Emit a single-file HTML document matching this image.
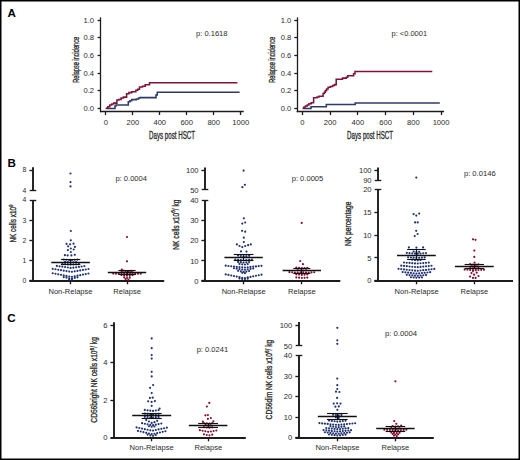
<!DOCTYPE html>
<html><head><meta charset="utf-8"><style>
html,body{margin:0;padding:0;background:#fff;}
body{width:520px;height:460px;overflow:hidden;}
svg{display:block;font-family:"Liberation Sans", sans-serif;}
</style></head><body>
<svg width="520" height="460" viewBox="0 0 520 460">
<rect x="0" y="0" width="520" height="460" fill="#fff"/>
<g>
<text x="7.6" y="17.1" font-size="11.6" text-anchor="start" fill="#000" font-weight="bold">A</text>
<text x="7.4" y="166.8" font-size="11.6" text-anchor="start" fill="#000" font-weight="bold">B</text>
<text x="7.2" y="322" font-size="11.6" text-anchor="start" fill="#000" font-weight="bold">C</text>
<line x1="100.5" y1="17.4" x2="100.5" y2="112.2" stroke="#1c1c1c" stroke-width="1.3"/>
<line x1="99.95" y1="111.5" x2="243.7" y2="111.5" stroke="#1c1c1c" stroke-width="1.3"/>
<line x1="97.6" y1="108.5" x2="100.6" y2="108.5" stroke="#1c1c1c" stroke-width="1.3"/>
<line x1="97.6" y1="90.5" x2="100.6" y2="90.5" stroke="#1c1c1c" stroke-width="1.3"/>
<line x1="97.6" y1="73.5" x2="100.6" y2="73.5" stroke="#1c1c1c" stroke-width="1.3"/>
<line x1="97.6" y1="55.5" x2="100.6" y2="55.5" stroke="#1c1c1c" stroke-width="1.3"/>
<line x1="97.6" y1="37.5" x2="100.6" y2="37.5" stroke="#1c1c1c" stroke-width="1.3"/>
<line x1="97.6" y1="20.5" x2="100.6" y2="20.5" stroke="#1c1c1c" stroke-width="1.3"/>
<text x="94.1" y="110.74" font-size="7.6" text-anchor="end" fill="#2a2a2a" font-weight="normal">0.0</text>
<text x="94.1" y="93.14" font-size="7.6" text-anchor="end" fill="#2a2a2a" font-weight="normal">0.2</text>
<text x="94.1" y="75.54" font-size="7.6" text-anchor="end" fill="#2a2a2a" font-weight="normal">0.4</text>
<text x="94.1" y="57.94" font-size="7.6" text-anchor="end" fill="#2a2a2a" font-weight="normal">0.6</text>
<text x="94.1" y="40.34" font-size="7.6" text-anchor="end" fill="#2a2a2a" font-weight="normal">0.8</text>
<text x="94.1" y="22.74" font-size="7.6" text-anchor="end" fill="#2a2a2a" font-weight="normal">1.0</text>
<line x1="105.5" y1="111.6" x2="105.5" y2="115" stroke="#1c1c1c" stroke-width="1.3"/>
<text x="105.8" y="125.4" font-size="7.6" text-anchor="middle" fill="#2a2a2a" font-weight="normal">0</text>
<line x1="132.5" y1="111.6" x2="132.5" y2="115" stroke="#1c1c1c" stroke-width="1.3"/>
<text x="132.78" y="125.4" font-size="7.6" text-anchor="middle" fill="#2a2a2a" font-weight="normal">200</text>
<line x1="159.5" y1="111.6" x2="159.5" y2="115" stroke="#1c1c1c" stroke-width="1.3"/>
<text x="159.76" y="125.4" font-size="7.6" text-anchor="middle" fill="#2a2a2a" font-weight="normal">400</text>
<line x1="186.5" y1="111.6" x2="186.5" y2="115" stroke="#1c1c1c" stroke-width="1.3"/>
<text x="186.74" y="125.4" font-size="7.6" text-anchor="middle" fill="#2a2a2a" font-weight="normal">600</text>
<line x1="213.5" y1="111.6" x2="213.5" y2="115" stroke="#1c1c1c" stroke-width="1.3"/>
<text x="213.72" y="125.4" font-size="7.6" text-anchor="middle" fill="#2a2a2a" font-weight="normal">800</text>
<line x1="240.5" y1="111.6" x2="240.5" y2="115" stroke="#1c1c1c" stroke-width="1.3"/>
<text x="240.7" y="125.4" font-size="7.6" text-anchor="middle" fill="#2a2a2a" font-weight="normal">1000</text>
<text transform="translate(78.6,59.8) rotate(-90)" x="0" y="0" font-size="9.7" text-anchor="middle" fill="#2a2a2a" font-weight="normal" stroke="#2a2a2a" stroke-width="0.32" textLength="46" lengthAdjust="spacingAndGlyphs">Relapse incidence</text>
<text x="149" y="138.5" font-size="10.0" text-anchor="start" fill="#2a2a2a" font-weight="normal" textLength="46" lengthAdjust="spacingAndGlyphs" stroke="#2a2a2a" stroke-width="0.32">Days post HSCT</text>
<text x="196" y="36.1" font-size="6.9" text-anchor="start" fill="#2a2a2a" font-weight="normal" textLength="31.5" lengthAdjust="spacingAndGlyphs">p: 0.1618</text>
<path d="M105.8,108.4 H115 V105.9 H116 V104.9 H128.3 V101.7 H129.9 V100.8 H131.7 V99.6 H136.3 V98.9 H138.6 V98 H140 V97.6 H156 V95 H157.3 V92.2 H239.6" fill="none" stroke="#2f3a68" stroke-width="1.55" stroke-linejoin="miter"/>
<path d="M105.8,108.3 H107.8 V106.8 H109.8 V105 H111.8 V103.9 H113.7 V103.1 H116.9 V100 H118.8 V99.4 H121.1 V98 H123.4 V97.1 H126.6 V93.8 H128.9 V92.6 H131.7 V91.8 H135.9 V90.2 H137.7 V89.2 H139.5 V86.9 H142.5 V86.3 H145.2 V84.8 H149.5 V82.8 H237.4" fill="none" stroke="#7e1337" stroke-width="1.55" stroke-linejoin="miter"/>
<line x1="297.5" y1="17.4" x2="297.5" y2="112.2" stroke="#1c1c1c" stroke-width="1.3"/>
<line x1="296.65" y1="111.5" x2="444.1" y2="111.5" stroke="#1c1c1c" stroke-width="1.3"/>
<line x1="294.3" y1="108.5" x2="297.3" y2="108.5" stroke="#1c1c1c" stroke-width="1.3"/>
<line x1="294.3" y1="90.5" x2="297.3" y2="90.5" stroke="#1c1c1c" stroke-width="1.3"/>
<line x1="294.3" y1="73.5" x2="297.3" y2="73.5" stroke="#1c1c1c" stroke-width="1.3"/>
<line x1="294.3" y1="55.5" x2="297.3" y2="55.5" stroke="#1c1c1c" stroke-width="1.3"/>
<line x1="294.3" y1="37.5" x2="297.3" y2="37.5" stroke="#1c1c1c" stroke-width="1.3"/>
<line x1="294.3" y1="20.5" x2="297.3" y2="20.5" stroke="#1c1c1c" stroke-width="1.3"/>
<text x="291.3" y="110.74" font-size="7.6" text-anchor="end" fill="#2a2a2a" font-weight="normal">0.0</text>
<text x="291.3" y="93.14" font-size="7.6" text-anchor="end" fill="#2a2a2a" font-weight="normal">0.2</text>
<text x="291.3" y="75.54" font-size="7.6" text-anchor="end" fill="#2a2a2a" font-weight="normal">0.4</text>
<text x="291.3" y="57.94" font-size="7.6" text-anchor="end" fill="#2a2a2a" font-weight="normal">0.6</text>
<text x="291.3" y="40.34" font-size="7.6" text-anchor="end" fill="#2a2a2a" font-weight="normal">0.8</text>
<text x="291.3" y="22.74" font-size="7.6" text-anchor="end" fill="#2a2a2a" font-weight="normal">1.0</text>
<line x1="302.5" y1="111.6" x2="302.5" y2="115" stroke="#1c1c1c" stroke-width="1.3"/>
<text x="302.3" y="125.4" font-size="7.6" text-anchor="middle" fill="#2a2a2a" font-weight="normal">0</text>
<line x1="330.5" y1="111.6" x2="330.5" y2="115" stroke="#1c1c1c" stroke-width="1.3"/>
<text x="330.06" y="125.4" font-size="7.6" text-anchor="middle" fill="#2a2a2a" font-weight="normal">200</text>
<line x1="357.5" y1="111.6" x2="357.5" y2="115" stroke="#1c1c1c" stroke-width="1.3"/>
<text x="357.82" y="125.4" font-size="7.6" text-anchor="middle" fill="#2a2a2a" font-weight="normal">400</text>
<line x1="385.5" y1="111.6" x2="385.5" y2="115" stroke="#1c1c1c" stroke-width="1.3"/>
<text x="385.58" y="125.4" font-size="7.6" text-anchor="middle" fill="#2a2a2a" font-weight="normal">600</text>
<line x1="413.5" y1="111.6" x2="413.5" y2="115" stroke="#1c1c1c" stroke-width="1.3"/>
<text x="413.34" y="125.4" font-size="7.6" text-anchor="middle" fill="#2a2a2a" font-weight="normal">800</text>
<line x1="441.5" y1="111.6" x2="441.5" y2="115" stroke="#1c1c1c" stroke-width="1.3"/>
<text x="441.1" y="125.4" font-size="7.6" text-anchor="middle" fill="#2a2a2a" font-weight="normal">1000</text>
<text transform="translate(274.5,59.8) rotate(-90)" x="0" y="0" font-size="9.7" text-anchor="middle" fill="#2a2a2a" font-weight="normal" stroke="#2a2a2a" stroke-width="0.32" textLength="46" lengthAdjust="spacingAndGlyphs">Relapse incidence</text>
<text x="347.1" y="138.5" font-size="10.0" text-anchor="start" fill="#2a2a2a" font-weight="normal" textLength="46" lengthAdjust="spacingAndGlyphs" stroke="#2a2a2a" stroke-width="0.32">Days post HSCT</text>
<text x="391.5" y="36.1" font-size="6.9" text-anchor="start" fill="#2a2a2a" font-weight="normal" textLength="35.6" lengthAdjust="spacingAndGlyphs">p: &lt;0.0001</text>
<path d="M302.7,108.4 H311 V106.8 H326.3 V104.5 H355.2 V102.9 H439.8" fill="none" stroke="#2f3a68" stroke-width="1.55" stroke-linejoin="miter"/>
<path d="M302.7,108.3 H304 V107 H305.5 V106 H307.2 V104.9 H308.9 V103.7 H311.2 V102.8 H313.6 V97.8 H317 V97 H319 V96.3 H323.1 V93.4 H324.4 V92.3 H325.3 V90.6 H326.6 V88.9 H328.1 V87.3 H330.4 V86.5 H332.7 V85.4 H334.5 V84.6 H336.2 V79.2 H342.5 V78.1 H346.3 V77.2 H347.7 V75.8 H353.6 V73.8 H355 V71.4 H432.3" fill="none" stroke="#7e1337" stroke-width="1.55" stroke-linejoin="miter"/>
<line x1="29.4" y1="281" x2="164.2" y2="281" stroke="#1c1c1c" stroke-width="1.9"/>
<line x1="33" y1="167.2" x2="33" y2="190.2" stroke="#1c1c1c" stroke-width="1.9"/>
<line x1="29.7" y1="190.5" x2="36.3" y2="190.5" stroke="#1c1c1c" stroke-width="1.35"/>
<line x1="29.4" y1="170.5" x2="33" y2="170.5" stroke="#1c1c1c" stroke-width="1.35"/>
<line x1="33" y1="200" x2="33" y2="281" stroke="#1c1c1c" stroke-width="1.9"/>
<line x1="29.7" y1="200.5" x2="36.3" y2="200.5" stroke="#1c1c1c" stroke-width="1.35"/>
<line x1="29.4" y1="220.5" x2="33" y2="220.5" stroke="#1c1c1c" stroke-width="1.35"/>
<line x1="29.4" y1="240.5" x2="33" y2="240.5" stroke="#1c1c1c" stroke-width="1.35"/>
<line x1="29.4" y1="260.5" x2="33" y2="260.5" stroke="#1c1c1c" stroke-width="1.35"/>
<line x1="29.4" y1="280.5" x2="33" y2="280.5" stroke="#1c1c1c" stroke-width="1.35"/>
<text x="26.4" y="202.45" font-size="6.8" text-anchor="end" fill="#2a2a2a" font-weight="normal">4</text>
<text x="26.4" y="222.85" font-size="6.8" text-anchor="end" fill="#2a2a2a" font-weight="normal">3</text>
<text x="26.4" y="243.15" font-size="6.8" text-anchor="end" fill="#2a2a2a" font-weight="normal">2</text>
<text x="26.4" y="263.35" font-size="6.8" text-anchor="end" fill="#2a2a2a" font-weight="normal">1</text>
<text x="26.4" y="283.25" font-size="6.8" text-anchor="end" fill="#2a2a2a" font-weight="normal">0</text>
<text x="26.4" y="172.45" font-size="6.8" text-anchor="end" fill="#2a2a2a" font-weight="normal">8</text>
<text x="26.4" y="192.65" font-size="6.8" text-anchor="end" fill="#2a2a2a" font-weight="normal">4</text>
<text x="70.5" y="294.1" font-size="7.55" text-anchor="middle" fill="#2a2a2a" font-weight="normal">Non-Relapse</text>
<text x="127.1" y="294.1" font-size="7.55" text-anchor="middle" fill="#2a2a2a" font-weight="normal">Relapse</text>
<line x1="70.5" y1="281" x2="70.5" y2="284.3" stroke="#1c1c1c" stroke-width="1.35"/>
<line x1="127.5" y1="281" x2="127.5" y2="284.3" stroke="#1c1c1c" stroke-width="1.35"/>
<text transform="translate(16,223.5) rotate(-90)" x="0" y="0" font-size="8.5" text-anchor="middle" fill="#2a2a2a" font-weight="normal" stroke="#2a2a2a" stroke-width="0.32" textLength="38.2" lengthAdjust="spacingAndGlyphs">NK cells x10<tspan font-size="6" dy="-3.2">9</tspan></text>
<text x="115.4" y="181.1" font-size="6.9" text-anchor="start" fill="#2a2a2a" font-weight="normal" textLength="31.6" lengthAdjust="spacingAndGlyphs">p: 0.0004</text>
<line x1="201.4" y1="281" x2="340.3" y2="281" stroke="#1c1c1c" stroke-width="1.9"/>
<line x1="205" y1="167.4" x2="205" y2="189.9" stroke="#1c1c1c" stroke-width="1.9"/>
<line x1="201.7" y1="189.5" x2="208.3" y2="189.5" stroke="#1c1c1c" stroke-width="1.35"/>
<line x1="201.4" y1="170.5" x2="205" y2="170.5" stroke="#1c1c1c" stroke-width="1.35"/>
<line x1="205" y1="200" x2="205" y2="281" stroke="#1c1c1c" stroke-width="1.9"/>
<line x1="201.7" y1="200.5" x2="208.3" y2="200.5" stroke="#1c1c1c" stroke-width="1.35"/>
<line x1="201.4" y1="220.5" x2="205" y2="220.5" stroke="#1c1c1c" stroke-width="1.35"/>
<line x1="201.4" y1="240.5" x2="205" y2="240.5" stroke="#1c1c1c" stroke-width="1.35"/>
<line x1="201.4" y1="260.5" x2="205" y2="260.5" stroke="#1c1c1c" stroke-width="1.35"/>
<line x1="201.4" y1="280.5" x2="205" y2="280.5" stroke="#1c1c1c" stroke-width="1.35"/>
<text x="198.6" y="202.74" font-size="7.6" text-anchor="end" fill="#2a2a2a" font-weight="normal">40</text>
<text x="198.6" y="223.14" font-size="7.6" text-anchor="end" fill="#2a2a2a" font-weight="normal">30</text>
<text x="198.6" y="243.44" font-size="7.6" text-anchor="end" fill="#2a2a2a" font-weight="normal">20</text>
<text x="198.6" y="263.64" font-size="7.6" text-anchor="end" fill="#2a2a2a" font-weight="normal">10</text>
<text x="198.6" y="283.54" font-size="7.6" text-anchor="end" fill="#2a2a2a" font-weight="normal">0</text>
<text x="198.6" y="172.74" font-size="7.6" text-anchor="end" fill="#2a2a2a" font-weight="normal">100</text>
<text x="198.6" y="192.64" font-size="7.6" text-anchor="end" fill="#2a2a2a" font-weight="normal">50</text>
<text x="243.7" y="294.1" font-size="7.55" text-anchor="middle" fill="#2a2a2a" font-weight="normal">Non-Relapse</text>
<text x="301.9" y="294.1" font-size="7.55" text-anchor="middle" fill="#2a2a2a" font-weight="normal">Relapse</text>
<line x1="243.5" y1="281" x2="243.5" y2="284.3" stroke="#1c1c1c" stroke-width="1.35"/>
<line x1="301.5" y1="281" x2="301.5" y2="284.3" stroke="#1c1c1c" stroke-width="1.35"/>
<text transform="translate(178.5,224.6) rotate(-90)" x="0" y="0" font-size="8.5" text-anchor="middle" fill="#2a2a2a" font-weight="normal" stroke="#2a2a2a" stroke-width="0.32" textLength="50.2" lengthAdjust="spacingAndGlyphs">NK cells x10<tspan font-size="6" dy="-3.2">6</tspan><tspan dy="3.2">/ kg</tspan></text>
<text x="291.7" y="181.1" font-size="6.9" text-anchor="start" fill="#2a2a2a" font-weight="normal" textLength="31.6" lengthAdjust="spacingAndGlyphs">p: 0.0005</text>
<line x1="374.4" y1="281" x2="513" y2="281" stroke="#1c1c1c" stroke-width="1.9"/>
<line x1="378" y1="167.4" x2="378" y2="180.4" stroke="#1c1c1c" stroke-width="1.9"/>
<line x1="374.7" y1="180.5" x2="381.3" y2="180.5" stroke="#1c1c1c" stroke-width="1.35"/>
<line x1="374.4" y1="170.5" x2="378" y2="170.5" stroke="#1c1c1c" stroke-width="1.35"/>
<line x1="378" y1="189.6" x2="378" y2="281" stroke="#1c1c1c" stroke-width="1.9"/>
<line x1="374.7" y1="189.5" x2="381.3" y2="189.5" stroke="#1c1c1c" stroke-width="1.35"/>
<line x1="374.4" y1="212.5" x2="378" y2="212.5" stroke="#1c1c1c" stroke-width="1.35"/>
<line x1="374.4" y1="235.5" x2="378" y2="235.5" stroke="#1c1c1c" stroke-width="1.35"/>
<line x1="374.4" y1="257.5" x2="378" y2="257.5" stroke="#1c1c1c" stroke-width="1.35"/>
<line x1="374.4" y1="280.5" x2="378" y2="280.5" stroke="#1c1c1c" stroke-width="1.35"/>
<text x="371.6" y="192.34" font-size="7.6" text-anchor="end" fill="#2a2a2a" font-weight="normal">20</text>
<text x="371.6" y="215.04" font-size="7.6" text-anchor="end" fill="#2a2a2a" font-weight="normal">15</text>
<text x="371.6" y="237.74" font-size="7.6" text-anchor="end" fill="#2a2a2a" font-weight="normal">10</text>
<text x="371.6" y="260.54" font-size="7.6" text-anchor="end" fill="#2a2a2a" font-weight="normal">5</text>
<text x="371.6" y="283.34" font-size="7.6" text-anchor="end" fill="#2a2a2a" font-weight="normal">0</text>
<text x="371.6" y="173.04" font-size="7.6" text-anchor="end" fill="#2a2a2a" font-weight="normal">100</text>
<text x="371.6" y="183.14" font-size="7.6" text-anchor="end" fill="#2a2a2a" font-weight="normal">90</text>
<text x="416.6" y="294.1" font-size="7.55" text-anchor="middle" fill="#2a2a2a" font-weight="normal">Non-Relapse</text>
<text x="474.4" y="294.1" font-size="7.55" text-anchor="middle" fill="#2a2a2a" font-weight="normal">Relapse</text>
<line x1="416.5" y1="281" x2="416.5" y2="284.3" stroke="#1c1c1c" stroke-width="1.35"/>
<line x1="474.5" y1="281" x2="474.5" y2="284.3" stroke="#1c1c1c" stroke-width="1.35"/>
<text transform="translate(350.7,223.8) rotate(-90)" x="0" y="0" font-size="8.5" text-anchor="middle" fill="#2a2a2a" font-weight="normal" stroke="#2a2a2a" stroke-width="0.32" textLength="44.6" lengthAdjust="spacingAndGlyphs">NK percentage</text>
<text x="463.9" y="176.1" font-size="6.9" text-anchor="start" fill="#2a2a2a" font-weight="normal" textLength="31.8" lengthAdjust="spacingAndGlyphs">p: 0.0146</text>
<line x1="114" y1="322.2" x2="114" y2="438" stroke="#1c1c1c" stroke-width="1.9"/>
<line x1="110.4" y1="438" x2="245.8" y2="438" stroke="#1c1c1c" stroke-width="1.9"/>
<line x1="110.4" y1="325.5" x2="114" y2="325.5" stroke="#1c1c1c" stroke-width="1.35"/>
<line x1="110.4" y1="362.5" x2="114" y2="362.5" stroke="#1c1c1c" stroke-width="1.35"/>
<line x1="110.4" y1="400.5" x2="114" y2="400.5" stroke="#1c1c1c" stroke-width="1.35"/>
<text x="107.6" y="327.74" font-size="7.6" text-anchor="end" fill="#2a2a2a" font-weight="normal">6</text>
<text x="107.6" y="365.24" font-size="7.6" text-anchor="end" fill="#2a2a2a" font-weight="normal">4</text>
<text x="107.6" y="402.94" font-size="7.6" text-anchor="end" fill="#2a2a2a" font-weight="normal">2</text>
<text x="107.6" y="440.24" font-size="7.6" text-anchor="end" fill="#2a2a2a" font-weight="normal">0</text>
<text x="151.6" y="450.4" font-size="7.55" text-anchor="middle" fill="#2a2a2a" font-weight="normal">Non-Relapse</text>
<text x="208.3" y="450.4" font-size="7.55" text-anchor="middle" fill="#2a2a2a" font-weight="normal">Relapse</text>
<line x1="151.5" y1="438" x2="151.5" y2="441.3" stroke="#1c1c1c" stroke-width="1.35"/>
<line x1="208.5" y1="438" x2="208.5" y2="441.3" stroke="#1c1c1c" stroke-width="1.35"/>
<text transform="translate(96.9,379.9) rotate(-90)" x="0" y="0" font-size="8.5" text-anchor="middle" fill="#2a2a2a" font-weight="normal" stroke="#2a2a2a" stroke-width="0.32" textLength="85.5" lengthAdjust="spacingAndGlyphs">CD56bright NK cells x10<tspan font-size="6" dy="-3.2">6</tspan><tspan dy="3.2">/ kg</tspan></text>
<text x="196.7" y="351.5" font-size="6.9" text-anchor="start" fill="#2a2a2a" font-weight="normal" textLength="31.4" lengthAdjust="spacingAndGlyphs">p: 0.0241</text>
<line x1="295.4" y1="438" x2="433.8" y2="438" stroke="#1c1c1c" stroke-width="1.9"/>
<line x1="299" y1="322.1" x2="299" y2="345.8" stroke="#1c1c1c" stroke-width="1.9"/>
<line x1="295.7" y1="345.5" x2="302.3" y2="345.5" stroke="#1c1c1c" stroke-width="1.35"/>
<line x1="295.4" y1="325.5" x2="299" y2="325.5" stroke="#1c1c1c" stroke-width="1.35"/>
<line x1="299" y1="355.5" x2="299" y2="438" stroke="#1c1c1c" stroke-width="1.9"/>
<line x1="295.7" y1="355.5" x2="302.3" y2="355.5" stroke="#1c1c1c" stroke-width="1.35"/>
<line x1="295.4" y1="376.5" x2="299" y2="376.5" stroke="#1c1c1c" stroke-width="1.35"/>
<line x1="295.4" y1="396.5" x2="299" y2="396.5" stroke="#1c1c1c" stroke-width="1.35"/>
<line x1="295.4" y1="417.5" x2="299" y2="417.5" stroke="#1c1c1c" stroke-width="1.35"/>
<line x1="295.4" y1="437.5" x2="299" y2="437.5" stroke="#1c1c1c" stroke-width="1.35"/>
<text x="292.3" y="358.24" font-size="7.6" text-anchor="end" fill="#2a2a2a" font-weight="normal">40</text>
<text x="292.3" y="378.84" font-size="7.6" text-anchor="end" fill="#2a2a2a" font-weight="normal">30</text>
<text x="292.3" y="399.44" font-size="7.6" text-anchor="end" fill="#2a2a2a" font-weight="normal">20</text>
<text x="292.3" y="419.94" font-size="7.6" text-anchor="end" fill="#2a2a2a" font-weight="normal">10</text>
<text x="292.3" y="440.14" font-size="7.6" text-anchor="end" fill="#2a2a2a" font-weight="normal">0</text>
<text x="292.3" y="327.74" font-size="7.6" text-anchor="end" fill="#2a2a2a" font-weight="normal">100</text>
<text x="292.3" y="348.64" font-size="7.6" text-anchor="end" fill="#2a2a2a" font-weight="normal">50</text>
<text x="337.4" y="450.4" font-size="7.55" text-anchor="middle" fill="#2a2a2a" font-weight="normal">Non-Relapse</text>
<text x="395.4" y="450.4" font-size="7.55" text-anchor="middle" fill="#2a2a2a" font-weight="normal">Relapse</text>
<line x1="337.5" y1="438" x2="337.5" y2="441.3" stroke="#1c1c1c" stroke-width="1.35"/>
<line x1="395.5" y1="438" x2="395.5" y2="441.3" stroke="#1c1c1c" stroke-width="1.35"/>
<text transform="translate(272.4,379.6) rotate(-90)" x="0" y="0" font-size="8.5" text-anchor="middle" fill="#2a2a2a" font-weight="normal" stroke="#2a2a2a" stroke-width="0.32" textLength="79.6" lengthAdjust="spacingAndGlyphs">CD56dim NK cells x10<tspan font-size="6" dy="-3.2">6</tspan><tspan dy="3.2">/ kg</tspan></text>
<text x="384.9" y="336.3" font-size="6.9" text-anchor="start" fill="#2a2a2a" font-weight="normal" textLength="32.2" lengthAdjust="spacingAndGlyphs">p: 0.0004</text>
<circle cx="70.5" cy="173.5" r="1.08" fill="#1f3170"/>
<circle cx="70.5" cy="182.1" r="1.08" fill="#1f3170"/>
<circle cx="70.5" cy="186.4" r="1.08" fill="#1f3170"/>
<circle cx="70.8" cy="231" r="1.08" fill="#1f3170"/>
<circle cx="70.8" cy="240.3" r="1.08" fill="#1f3170"/>
<circle cx="66.5" cy="243.9" r="1.08" fill="#1f3170"/>
<circle cx="70.1" cy="244.3" r="1.08" fill="#1f3170"/>
<circle cx="73.5" cy="243.7" r="1.08" fill="#1f3170"/>
<circle cx="68.1" cy="246.3" r="1.08" fill="#1f3170"/>
<circle cx="74.9" cy="246.9" r="1.08" fill="#1f3170"/>
<circle cx="70.8" cy="248.5" r="1.08" fill="#1f3170"/>
<circle cx="67.9" cy="250.1" r="1.08" fill="#1f3170"/>
<circle cx="73.7" cy="249.5" r="1.08" fill="#1f3170"/>
<circle cx="70.8" cy="252" r="1.08" fill="#1f3170"/>
<circle cx="64.9" cy="255.2" r="1.08" fill="#1f3170"/>
<circle cx="67.6" cy="255.4" r="1.08" fill="#1f3170"/>
<circle cx="71.4" cy="255.4" r="1.08" fill="#1f3170"/>
<circle cx="74.8" cy="254.8" r="1.08" fill="#1f3170"/>
<circle cx="71.97" cy="260.1" r="1.08" fill="#1f3170"/>
<circle cx="69.22" cy="259.98" r="1.08" fill="#1f3170"/>
<circle cx="74.72" cy="259.86" r="1.08" fill="#1f3170"/>
<circle cx="66.47" cy="259.74" r="1.08" fill="#1f3170"/>
<circle cx="77.47" cy="259.62" r="1.08" fill="#1f3170"/>
<circle cx="63.72" cy="259.5" r="1.08" fill="#1f3170"/>
<circle cx="70.6" cy="262.5" r="1.08" fill="#1f3170"/>
<circle cx="73.35" cy="262.35" r="1.08" fill="#1f3170"/>
<circle cx="67.85" cy="262.2" r="1.08" fill="#1f3170"/>
<circle cx="76.1" cy="262.05" r="1.08" fill="#1f3170"/>
<circle cx="65.1" cy="261.9" r="1.08" fill="#1f3170"/>
<circle cx="70.6" cy="264.6" r="1.08" fill="#1f3170"/>
<circle cx="73.35" cy="264.5" r="1.08" fill="#1f3170"/>
<circle cx="67.85" cy="264.4" r="1.08" fill="#1f3170"/>
<circle cx="76.1" cy="264.3" r="1.08" fill="#1f3170"/>
<circle cx="65.1" cy="264.2" r="1.08" fill="#1f3170"/>
<circle cx="78.85" cy="264.1" r="1.08" fill="#1f3170"/>
<circle cx="62.35" cy="264" r="1.08" fill="#1f3170"/>
<circle cx="70.6" cy="267.9" r="1.08" fill="#1f3170"/>
<circle cx="73.35" cy="267.7" r="1.08" fill="#1f3170"/>
<circle cx="67.85" cy="267.5" r="1.08" fill="#1f3170"/>
<circle cx="76.1" cy="267.3" r="1.08" fill="#1f3170"/>
<circle cx="65.1" cy="267.1" r="1.08" fill="#1f3170"/>
<circle cx="78.85" cy="266.9" r="1.08" fill="#1f3170"/>
<circle cx="62.35" cy="266.7" r="1.08" fill="#1f3170"/>
<circle cx="81.6" cy="266.5" r="1.08" fill="#1f3170"/>
<circle cx="59.6" cy="266.3" r="1.08" fill="#1f3170"/>
<circle cx="84.35" cy="266.1" r="1.08" fill="#1f3170"/>
<circle cx="56.85" cy="265.9" r="1.08" fill="#1f3170"/>
<circle cx="71.97" cy="271.8" r="1.08" fill="#1f3170"/>
<circle cx="69.22" cy="271.57" r="1.08" fill="#1f3170"/>
<circle cx="74.72" cy="271.34" r="1.08" fill="#1f3170"/>
<circle cx="66.47" cy="271.11" r="1.08" fill="#1f3170"/>
<circle cx="77.47" cy="270.88" r="1.08" fill="#1f3170"/>
<circle cx="63.72" cy="270.65" r="1.08" fill="#1f3170"/>
<circle cx="80.22" cy="270.42" r="1.08" fill="#1f3170"/>
<circle cx="60.97" cy="270.18" r="1.08" fill="#1f3170"/>
<circle cx="82.97" cy="269.95" r="1.08" fill="#1f3170"/>
<circle cx="58.22" cy="269.72" r="1.08" fill="#1f3170"/>
<circle cx="85.72" cy="269.49" r="1.08" fill="#1f3170"/>
<circle cx="55.47" cy="269.26" r="1.08" fill="#1f3170"/>
<circle cx="88.47" cy="269.03" r="1.08" fill="#1f3170"/>
<circle cx="52.72" cy="268.8" r="1.08" fill="#1f3170"/>
<circle cx="71.97" cy="276.75" r="1.08" fill="#1f3170"/>
<circle cx="69.22" cy="276.48" r="1.08" fill="#1f3170"/>
<circle cx="74.72" cy="276.21" r="1.08" fill="#1f3170"/>
<circle cx="66.47" cy="275.94" r="1.08" fill="#1f3170"/>
<circle cx="77.47" cy="275.67" r="1.08" fill="#1f3170"/>
<circle cx="63.72" cy="275.4" r="1.08" fill="#1f3170"/>
<circle cx="80.22" cy="275.13" r="1.08" fill="#1f3170"/>
<circle cx="60.97" cy="274.87" r="1.08" fill="#1f3170"/>
<circle cx="82.97" cy="274.6" r="1.08" fill="#1f3170"/>
<circle cx="58.22" cy="274.33" r="1.08" fill="#1f3170"/>
<circle cx="85.72" cy="274.06" r="1.08" fill="#1f3170"/>
<circle cx="55.47" cy="273.79" r="1.08" fill="#1f3170"/>
<circle cx="88.47" cy="273.52" r="1.08" fill="#1f3170"/>
<circle cx="52.72" cy="273.25" r="1.08" fill="#1f3170"/>
<circle cx="71.97" cy="278.55" r="1.08" fill="#1f3170"/>
<circle cx="69.22" cy="278.25" r="1.08" fill="#1f3170"/>
<circle cx="74.72" cy="277.95" r="1.08" fill="#1f3170"/>
<circle cx="66.47" cy="277.65" r="1.08" fill="#1f3170"/>
<circle cx="77.47" cy="277.35" r="1.08" fill="#1f3170"/>
<circle cx="63.72" cy="277.05" r="1.08" fill="#1f3170"/>
<circle cx="71.97" cy="279.95" r="1.08" fill="#1f3170"/>
<circle cx="69.22" cy="279.65" r="1.08" fill="#1f3170"/>
<circle cx="127" cy="237" r="1.08" fill="#840e32"/>
<circle cx="127" cy="261.3" r="1.08" fill="#840e32"/>
<circle cx="121.8" cy="269.6" r="1.08" fill="#840e32"/>
<circle cx="128.38" cy="271.3" r="1.08" fill="#840e32"/>
<circle cx="125.62" cy="271.1" r="1.08" fill="#840e32"/>
<circle cx="131.12" cy="270.9" r="1.08" fill="#840e32"/>
<circle cx="122.88" cy="270.7" r="1.08" fill="#840e32"/>
<circle cx="127" cy="272.8" r="1.08" fill="#840e32"/>
<circle cx="129.75" cy="272.65" r="1.08" fill="#840e32"/>
<circle cx="124.25" cy="272.5" r="1.08" fill="#840e32"/>
<circle cx="132.5" cy="272.35" r="1.08" fill="#840e32"/>
<circle cx="121.5" cy="272.2" r="1.08" fill="#840e32"/>
<circle cx="127" cy="274.2" r="1.08" fill="#840e32"/>
<circle cx="129.75" cy="274.14" r="1.08" fill="#840e32"/>
<circle cx="124.25" cy="274.08" r="1.08" fill="#840e32"/>
<circle cx="132.5" cy="274.02" r="1.08" fill="#840e32"/>
<circle cx="121.5" cy="273.96" r="1.08" fill="#840e32"/>
<circle cx="135.25" cy="273.9" r="1.08" fill="#840e32"/>
<circle cx="118.75" cy="273.84" r="1.08" fill="#840e32"/>
<circle cx="138" cy="273.78" r="1.08" fill="#840e32"/>
<circle cx="116" cy="273.72" r="1.08" fill="#840e32"/>
<circle cx="140.75" cy="273.66" r="1.08" fill="#840e32"/>
<circle cx="113.25" cy="273.6" r="1.08" fill="#840e32"/>
<circle cx="127" cy="275.7" r="1.08" fill="#840e32"/>
<circle cx="129.75" cy="275.55" r="1.08" fill="#840e32"/>
<circle cx="124.25" cy="275.4" r="1.08" fill="#840e32"/>
<circle cx="132.5" cy="275.25" r="1.08" fill="#840e32"/>
<circle cx="121.5" cy="275.1" r="1.08" fill="#840e32"/>
<circle cx="127" cy="278" r="1.08" fill="#840e32"/>
<circle cx="129.75" cy="277.7" r="1.08" fill="#840e32"/>
<circle cx="124.25" cy="277.4" r="1.08" fill="#840e32"/>
<circle cx="128.38" cy="279.7" r="1.08" fill="#840e32"/>
<circle cx="125.62" cy="279.1" r="1.08" fill="#840e32"/>
<circle cx="243.6" cy="170.7" r="1.08" fill="#1f3170"/>
<circle cx="244.9" cy="184.8" r="1.08" fill="#1f3170"/>
<circle cx="242.4" cy="187.2" r="1.08" fill="#1f3170"/>
<circle cx="243.8" cy="218.3" r="1.08" fill="#1f3170"/>
<circle cx="242.3" cy="223.6" r="1.08" fill="#1f3170"/>
<circle cx="245.2" cy="222.5" r="1.08" fill="#1f3170"/>
<circle cx="242.1" cy="230.8" r="1.08" fill="#1f3170"/>
<circle cx="245.2" cy="231.7" r="1.08" fill="#1f3170"/>
<circle cx="243.8" cy="237.7" r="1.08" fill="#1f3170"/>
<circle cx="243.8" cy="242.1" r="1.08" fill="#1f3170"/>
<circle cx="236.9" cy="244.4" r="1.08" fill="#1f3170"/>
<circle cx="239.5" cy="246" r="1.08" fill="#1f3170"/>
<circle cx="242.3" cy="247.1" r="1.08" fill="#1f3170"/>
<circle cx="245.2" cy="246" r="1.08" fill="#1f3170"/>
<circle cx="248.1" cy="245.2" r="1.08" fill="#1f3170"/>
<circle cx="250.8" cy="244.4" r="1.08" fill="#1f3170"/>
<circle cx="241" cy="251.4" r="1.08" fill="#1f3170"/>
<circle cx="246.5" cy="251.6" r="1.08" fill="#1f3170"/>
<circle cx="243.6" cy="256.4" r="1.08" fill="#1f3170"/>
<circle cx="246.35" cy="256.2" r="1.08" fill="#1f3170"/>
<circle cx="240.85" cy="256" r="1.08" fill="#1f3170"/>
<circle cx="249.1" cy="255.8" r="1.08" fill="#1f3170"/>
<circle cx="238.1" cy="255.6" r="1.08" fill="#1f3170"/>
<circle cx="243.6" cy="260.3" r="1.08" fill="#1f3170"/>
<circle cx="246.35" cy="260.17" r="1.08" fill="#1f3170"/>
<circle cx="240.85" cy="260.03" r="1.08" fill="#1f3170"/>
<circle cx="249.1" cy="259.9" r="1.08" fill="#1f3170"/>
<circle cx="238.1" cy="259.77" r="1.08" fill="#1f3170"/>
<circle cx="251.85" cy="259.63" r="1.08" fill="#1f3170"/>
<circle cx="235.35" cy="259.5" r="1.08" fill="#1f3170"/>
<circle cx="243.6" cy="262.5" r="1.08" fill="#1f3170"/>
<circle cx="246.35" cy="262.35" r="1.08" fill="#1f3170"/>
<circle cx="240.85" cy="262.2" r="1.08" fill="#1f3170"/>
<circle cx="249.1" cy="262.05" r="1.08" fill="#1f3170"/>
<circle cx="238.1" cy="261.9" r="1.08" fill="#1f3170"/>
<circle cx="244.97" cy="264.5" r="1.08" fill="#1f3170"/>
<circle cx="242.22" cy="264.3" r="1.08" fill="#1f3170"/>
<circle cx="247.72" cy="264.1" r="1.08" fill="#1f3170"/>
<circle cx="239.47" cy="263.9" r="1.08" fill="#1f3170"/>
<circle cx="244.97" cy="267.5" r="1.08" fill="#1f3170"/>
<circle cx="242.22" cy="267.36" r="1.08" fill="#1f3170"/>
<circle cx="247.72" cy="267.22" r="1.08" fill="#1f3170"/>
<circle cx="239.47" cy="267.08" r="1.08" fill="#1f3170"/>
<circle cx="250.47" cy="266.95" r="1.08" fill="#1f3170"/>
<circle cx="236.72" cy="266.81" r="1.08" fill="#1f3170"/>
<circle cx="253.22" cy="266.67" r="1.08" fill="#1f3170"/>
<circle cx="233.97" cy="266.53" r="1.08" fill="#1f3170"/>
<circle cx="255.97" cy="266.39" r="1.08" fill="#1f3170"/>
<circle cx="231.22" cy="266.25" r="1.08" fill="#1f3170"/>
<circle cx="258.73" cy="266.12" r="1.08" fill="#1f3170"/>
<circle cx="228.47" cy="265.98" r="1.08" fill="#1f3170"/>
<circle cx="261.48" cy="265.84" r="1.08" fill="#1f3170"/>
<circle cx="225.72" cy="265.7" r="1.08" fill="#1f3170"/>
<circle cx="244.97" cy="269.75" r="1.08" fill="#1f3170"/>
<circle cx="242.22" cy="269.54" r="1.08" fill="#1f3170"/>
<circle cx="247.72" cy="269.32" r="1.08" fill="#1f3170"/>
<circle cx="239.47" cy="269.11" r="1.08" fill="#1f3170"/>
<circle cx="250.47" cy="268.89" r="1.08" fill="#1f3170"/>
<circle cx="236.72" cy="268.68" r="1.08" fill="#1f3170"/>
<circle cx="253.22" cy="268.46" r="1.08" fill="#1f3170"/>
<circle cx="233.97" cy="268.25" r="1.08" fill="#1f3170"/>
<circle cx="243.6" cy="271.8" r="1.08" fill="#1f3170"/>
<circle cx="246.35" cy="271.55" r="1.08" fill="#1f3170"/>
<circle cx="240.85" cy="271.3" r="1.08" fill="#1f3170"/>
<circle cx="249.1" cy="271.05" r="1.08" fill="#1f3170"/>
<circle cx="238.1" cy="270.8" r="1.08" fill="#1f3170"/>
<circle cx="244.97" cy="273.15" r="1.08" fill="#1f3170"/>
<circle cx="242.22" cy="272.85" r="1.08" fill="#1f3170"/>
<circle cx="244.97" cy="278" r="1.08" fill="#1f3170"/>
<circle cx="242.22" cy="277.72" r="1.08" fill="#1f3170"/>
<circle cx="247.72" cy="277.45" r="1.08" fill="#1f3170"/>
<circle cx="239.47" cy="277.17" r="1.08" fill="#1f3170"/>
<circle cx="250.47" cy="276.89" r="1.08" fill="#1f3170"/>
<circle cx="236.72" cy="276.62" r="1.08" fill="#1f3170"/>
<circle cx="253.22" cy="276.34" r="1.08" fill="#1f3170"/>
<circle cx="233.97" cy="276.06" r="1.08" fill="#1f3170"/>
<circle cx="255.97" cy="275.78" r="1.08" fill="#1f3170"/>
<circle cx="231.22" cy="275.51" r="1.08" fill="#1f3170"/>
<circle cx="258.73" cy="275.23" r="1.08" fill="#1f3170"/>
<circle cx="228.47" cy="274.95" r="1.08" fill="#1f3170"/>
<circle cx="261.48" cy="274.68" r="1.08" fill="#1f3170"/>
<circle cx="225.72" cy="274.4" r="1.08" fill="#1f3170"/>
<circle cx="244.97" cy="279.1" r="1.08" fill="#1f3170"/>
<circle cx="242.22" cy="278.9" r="1.08" fill="#1f3170"/>
<circle cx="247.72" cy="278.7" r="1.08" fill="#1f3170"/>
<circle cx="239.47" cy="278.5" r="1.08" fill="#1f3170"/>
<circle cx="301.7" cy="222.9" r="1.08" fill="#840e32"/>
<circle cx="300.2" cy="261" r="1.08" fill="#840e32"/>
<circle cx="302.9" cy="264.2" r="1.08" fill="#840e32"/>
<circle cx="301.8" cy="268.2" r="1.08" fill="#840e32"/>
<circle cx="304.55" cy="268.05" r="1.08" fill="#840e32"/>
<circle cx="299.05" cy="267.9" r="1.08" fill="#840e32"/>
<circle cx="307.3" cy="267.75" r="1.08" fill="#840e32"/>
<circle cx="296.3" cy="267.6" r="1.08" fill="#840e32"/>
<circle cx="303.18" cy="270.7" r="1.08" fill="#840e32"/>
<circle cx="300.43" cy="270.5" r="1.08" fill="#840e32"/>
<circle cx="305.93" cy="270.3" r="1.08" fill="#840e32"/>
<circle cx="297.68" cy="270.1" r="1.08" fill="#840e32"/>
<circle cx="303.18" cy="272.8" r="1.08" fill="#840e32"/>
<circle cx="300.43" cy="272.73" r="1.08" fill="#840e32"/>
<circle cx="305.93" cy="272.67" r="1.08" fill="#840e32"/>
<circle cx="297.68" cy="272.6" r="1.08" fill="#840e32"/>
<circle cx="308.68" cy="272.53" r="1.08" fill="#840e32"/>
<circle cx="294.93" cy="272.47" r="1.08" fill="#840e32"/>
<circle cx="311.43" cy="272.4" r="1.08" fill="#840e32"/>
<circle cx="292.18" cy="272.33" r="1.08" fill="#840e32"/>
<circle cx="314.18" cy="272.27" r="1.08" fill="#840e32"/>
<circle cx="289.43" cy="272.2" r="1.08" fill="#840e32"/>
<circle cx="301.8" cy="274.9" r="1.08" fill="#840e32"/>
<circle cx="304.55" cy="274.75" r="1.08" fill="#840e32"/>
<circle cx="299.05" cy="274.6" r="1.08" fill="#840e32"/>
<circle cx="307.3" cy="274.45" r="1.08" fill="#840e32"/>
<circle cx="296.3" cy="274.3" r="1.08" fill="#840e32"/>
<circle cx="301.8" cy="278" r="1.08" fill="#840e32"/>
<circle cx="304.55" cy="277.85" r="1.08" fill="#840e32"/>
<circle cx="299.05" cy="277.7" r="1.08" fill="#840e32"/>
<circle cx="307.3" cy="277.55" r="1.08" fill="#840e32"/>
<circle cx="296.3" cy="277.4" r="1.08" fill="#840e32"/>
<circle cx="416.3" cy="177.6" r="1.08" fill="#1f3170"/>
<circle cx="413.6" cy="214.1" r="1.08" fill="#1f3170"/>
<circle cx="416.3" cy="215.6" r="1.08" fill="#1f3170"/>
<circle cx="419.2" cy="213.6" r="1.08" fill="#1f3170"/>
<circle cx="415.1" cy="222.4" r="1.08" fill="#1f3170"/>
<circle cx="417.7" cy="222.4" r="1.08" fill="#1f3170"/>
<circle cx="416.2" cy="230.8" r="1.08" fill="#1f3170"/>
<circle cx="417.6" cy="234" r="1.08" fill="#1f3170"/>
<circle cx="414.7" cy="236.1" r="1.08" fill="#1f3170"/>
<circle cx="408.9" cy="247.4" r="1.08" fill="#1f3170"/>
<circle cx="423.1" cy="247.4" r="1.08" fill="#1f3170"/>
<circle cx="416.4" cy="247.6" r="1.08" fill="#1f3170"/>
<circle cx="416.4" cy="252.1" r="1.08" fill="#1f3170"/>
<circle cx="419.15" cy="251.8" r="1.08" fill="#1f3170"/>
<circle cx="413.65" cy="251.5" r="1.08" fill="#1f3170"/>
<circle cx="417.77" cy="253.7" r="1.08" fill="#1f3170"/>
<circle cx="415.02" cy="253.59" r="1.08" fill="#1f3170"/>
<circle cx="420.52" cy="253.47" r="1.08" fill="#1f3170"/>
<circle cx="412.27" cy="253.36" r="1.08" fill="#1f3170"/>
<circle cx="423.27" cy="253.24" r="1.08" fill="#1f3170"/>
<circle cx="409.52" cy="253.13" r="1.08" fill="#1f3170"/>
<circle cx="426.02" cy="253.01" r="1.08" fill="#1f3170"/>
<circle cx="406.77" cy="252.9" r="1.08" fill="#1f3170"/>
<circle cx="416.4" cy="257.9" r="1.08" fill="#1f3170"/>
<circle cx="419.15" cy="257.8" r="1.08" fill="#1f3170"/>
<circle cx="413.65" cy="257.7" r="1.08" fill="#1f3170"/>
<circle cx="421.9" cy="257.6" r="1.08" fill="#1f3170"/>
<circle cx="410.9" cy="257.5" r="1.08" fill="#1f3170"/>
<circle cx="424.65" cy="257.4" r="1.08" fill="#1f3170"/>
<circle cx="408.15" cy="257.3" r="1.08" fill="#1f3170"/>
<circle cx="417.77" cy="260.3" r="1.08" fill="#1f3170"/>
<circle cx="415.02" cy="260.1" r="1.08" fill="#1f3170"/>
<circle cx="420.52" cy="259.9" r="1.08" fill="#1f3170"/>
<circle cx="412.27" cy="259.7" r="1.08" fill="#1f3170"/>
<circle cx="417.77" cy="263.5" r="1.08" fill="#1f3170"/>
<circle cx="415.02" cy="263.39" r="1.08" fill="#1f3170"/>
<circle cx="420.52" cy="263.28" r="1.08" fill="#1f3170"/>
<circle cx="412.27" cy="263.17" r="1.08" fill="#1f3170"/>
<circle cx="423.27" cy="263.06" r="1.08" fill="#1f3170"/>
<circle cx="409.52" cy="262.94" r="1.08" fill="#1f3170"/>
<circle cx="426.02" cy="262.83" r="1.08" fill="#1f3170"/>
<circle cx="406.77" cy="262.72" r="1.08" fill="#1f3170"/>
<circle cx="428.77" cy="262.61" r="1.08" fill="#1f3170"/>
<circle cx="404.02" cy="262.5" r="1.08" fill="#1f3170"/>
<circle cx="417.77" cy="267.15" r="1.08" fill="#1f3170"/>
<circle cx="415.02" cy="267.01" r="1.08" fill="#1f3170"/>
<circle cx="420.52" cy="266.88" r="1.08" fill="#1f3170"/>
<circle cx="412.27" cy="266.74" r="1.08" fill="#1f3170"/>
<circle cx="423.27" cy="266.6" r="1.08" fill="#1f3170"/>
<circle cx="409.52" cy="266.47" r="1.08" fill="#1f3170"/>
<circle cx="426.02" cy="266.33" r="1.08" fill="#1f3170"/>
<circle cx="406.77" cy="266.2" r="1.08" fill="#1f3170"/>
<circle cx="428.77" cy="266.06" r="1.08" fill="#1f3170"/>
<circle cx="404.02" cy="265.92" r="1.08" fill="#1f3170"/>
<circle cx="431.52" cy="265.79" r="1.08" fill="#1f3170"/>
<circle cx="401.27" cy="265.65" r="1.08" fill="#1f3170"/>
<circle cx="417.77" cy="270.8" r="1.08" fill="#1f3170"/>
<circle cx="415.02" cy="270.65" r="1.08" fill="#1f3170"/>
<circle cx="420.52" cy="270.49" r="1.08" fill="#1f3170"/>
<circle cx="412.27" cy="270.34" r="1.08" fill="#1f3170"/>
<circle cx="423.27" cy="270.18" r="1.08" fill="#1f3170"/>
<circle cx="409.52" cy="270.03" r="1.08" fill="#1f3170"/>
<circle cx="426.02" cy="269.88" r="1.08" fill="#1f3170"/>
<circle cx="406.77" cy="269.72" r="1.08" fill="#1f3170"/>
<circle cx="428.77" cy="269.57" r="1.08" fill="#1f3170"/>
<circle cx="404.02" cy="269.42" r="1.08" fill="#1f3170"/>
<circle cx="431.52" cy="269.26" r="1.08" fill="#1f3170"/>
<circle cx="401.27" cy="269.11" r="1.08" fill="#1f3170"/>
<circle cx="434.27" cy="268.95" r="1.08" fill="#1f3170"/>
<circle cx="398.52" cy="268.8" r="1.08" fill="#1f3170"/>
<circle cx="416.4" cy="273.55" r="1.08" fill="#1f3170"/>
<circle cx="419.15" cy="273.4" r="1.08" fill="#1f3170"/>
<circle cx="413.65" cy="273.25" r="1.08" fill="#1f3170"/>
<circle cx="421.9" cy="273.1" r="1.08" fill="#1f3170"/>
<circle cx="410.9" cy="272.95" r="1.08" fill="#1f3170"/>
<circle cx="424.65" cy="272.8" r="1.08" fill="#1f3170"/>
<circle cx="408.15" cy="272.65" r="1.08" fill="#1f3170"/>
<circle cx="427.4" cy="272.5" r="1.08" fill="#1f3170"/>
<circle cx="405.4" cy="272.35" r="1.08" fill="#1f3170"/>
<circle cx="430.15" cy="272.2" r="1.08" fill="#1f3170"/>
<circle cx="402.65" cy="272.05" r="1.08" fill="#1f3170"/>
<circle cx="417.77" cy="275.8" r="1.08" fill="#1f3170"/>
<circle cx="415.02" cy="275.66" r="1.08" fill="#1f3170"/>
<circle cx="420.52" cy="275.51" r="1.08" fill="#1f3170"/>
<circle cx="412.27" cy="275.37" r="1.08" fill="#1f3170"/>
<circle cx="423.27" cy="275.23" r="1.08" fill="#1f3170"/>
<circle cx="409.52" cy="275.09" r="1.08" fill="#1f3170"/>
<circle cx="426.02" cy="274.94" r="1.08" fill="#1f3170"/>
<circle cx="406.77" cy="274.8" r="1.08" fill="#1f3170"/>
<circle cx="416.4" cy="277.75" r="1.08" fill="#1f3170"/>
<circle cx="419.15" cy="277.62" r="1.08" fill="#1f3170"/>
<circle cx="413.65" cy="277.5" r="1.08" fill="#1f3170"/>
<circle cx="421.9" cy="277.38" r="1.08" fill="#1f3170"/>
<circle cx="410.9" cy="277.25" r="1.08" fill="#1f3170"/>
<circle cx="473" cy="239.3" r="1.08" fill="#840e32"/>
<circle cx="475.5" cy="239.8" r="1.08" fill="#840e32"/>
<circle cx="474.3" cy="250.6" r="1.08" fill="#840e32"/>
<circle cx="474.3" cy="256.9" r="1.08" fill="#840e32"/>
<circle cx="474.5" cy="262.6" r="1.08" fill="#840e32"/>
<circle cx="473" cy="270.9" r="1.08" fill="#840e32"/>
<circle cx="471.5" cy="273.1" r="1.08" fill="#840e32"/>
<circle cx="476.7" cy="272.7" r="1.08" fill="#840e32"/>
<circle cx="474.1" cy="274.7" r="1.08" fill="#840e32"/>
<circle cx="470.1" cy="276.6" r="1.08" fill="#840e32"/>
<circle cx="478.5" cy="276" r="1.08" fill="#840e32"/>
<circle cx="473" cy="277.9" r="1.08" fill="#840e32"/>
<circle cx="475.6" cy="277.9" r="1.08" fill="#840e32"/>
<circle cx="475.68" cy="264.7" r="1.08" fill="#840e32"/>
<circle cx="472.93" cy="264.5" r="1.08" fill="#840e32"/>
<circle cx="478.43" cy="264.3" r="1.08" fill="#840e32"/>
<circle cx="470.18" cy="264.1" r="1.08" fill="#840e32"/>
<circle cx="474.3" cy="266.7" r="1.08" fill="#840e32"/>
<circle cx="477.05" cy="266.4" r="1.08" fill="#840e32"/>
<circle cx="471.55" cy="266.1" r="1.08" fill="#840e32"/>
<circle cx="475.68" cy="268.6" r="1.08" fill="#840e32"/>
<circle cx="472.93" cy="268.4" r="1.08" fill="#840e32"/>
<circle cx="478.43" cy="268.2" r="1.08" fill="#840e32"/>
<circle cx="470.18" cy="268" r="1.08" fill="#840e32"/>
<circle cx="475.68" cy="270.2" r="1.08" fill="#840e32"/>
<circle cx="472.93" cy="270.11" r="1.08" fill="#840e32"/>
<circle cx="478.43" cy="270.03" r="1.08" fill="#840e32"/>
<circle cx="470.18" cy="269.94" r="1.08" fill="#840e32"/>
<circle cx="481.18" cy="269.86" r="1.08" fill="#840e32"/>
<circle cx="467.43" cy="269.77" r="1.08" fill="#840e32"/>
<circle cx="483.93" cy="269.69" r="1.08" fill="#840e32"/>
<circle cx="464.68" cy="269.6" r="1.08" fill="#840e32"/>
<circle cx="151.7" cy="338.4" r="1.08" fill="#1f3170"/>
<circle cx="151.7" cy="348.2" r="1.08" fill="#1f3170"/>
<circle cx="151.7" cy="355.1" r="1.08" fill="#1f3170"/>
<circle cx="151.7" cy="358.6" r="1.08" fill="#1f3170"/>
<circle cx="151.7" cy="371.8" r="1.08" fill="#1f3170"/>
<circle cx="151.7" cy="376.4" r="1.08" fill="#1f3170"/>
<circle cx="153.1" cy="385" r="1.08" fill="#1f3170"/>
<circle cx="150.1" cy="387.8" r="1.08" fill="#1f3170"/>
<circle cx="151.7" cy="393.1" r="1.08" fill="#1f3170"/>
<circle cx="149.9" cy="397.9" r="1.08" fill="#1f3170"/>
<circle cx="152.7" cy="397.7" r="1.08" fill="#1f3170"/>
<circle cx="148.2" cy="401.3" r="1.08" fill="#1f3170"/>
<circle cx="151.6" cy="401.9" r="1.08" fill="#1f3170"/>
<circle cx="154.9" cy="401.1" r="1.08" fill="#1f3170"/>
<circle cx="151.7" cy="405.8" r="1.08" fill="#1f3170"/>
<circle cx="159.6" cy="408.5" r="1.08" fill="#1f3170"/>
<circle cx="153.07" cy="410.9" r="1.08" fill="#1f3170"/>
<circle cx="150.32" cy="410.7" r="1.08" fill="#1f3170"/>
<circle cx="155.82" cy="410.5" r="1.08" fill="#1f3170"/>
<circle cx="147.57" cy="410.3" r="1.08" fill="#1f3170"/>
<circle cx="158.57" cy="410.1" r="1.08" fill="#1f3170"/>
<circle cx="144.82" cy="409.9" r="1.08" fill="#1f3170"/>
<circle cx="153.07" cy="414.3" r="1.08" fill="#1f3170"/>
<circle cx="150.32" cy="414.18" r="1.08" fill="#1f3170"/>
<circle cx="155.82" cy="414.06" r="1.08" fill="#1f3170"/>
<circle cx="147.57" cy="413.94" r="1.08" fill="#1f3170"/>
<circle cx="158.57" cy="413.82" r="1.08" fill="#1f3170"/>
<circle cx="144.82" cy="413.7" r="1.08" fill="#1f3170"/>
<circle cx="153.07" cy="417.4" r="1.08" fill="#1f3170"/>
<circle cx="150.32" cy="417.28" r="1.08" fill="#1f3170"/>
<circle cx="155.82" cy="417.16" r="1.08" fill="#1f3170"/>
<circle cx="147.57" cy="417.04" r="1.08" fill="#1f3170"/>
<circle cx="158.57" cy="416.92" r="1.08" fill="#1f3170"/>
<circle cx="144.82" cy="416.8" r="1.08" fill="#1f3170"/>
<circle cx="151.7" cy="422.9" r="1.08" fill="#1f3170"/>
<circle cx="154.45" cy="422.2" r="1.08" fill="#1f3170"/>
<circle cx="148.95" cy="421.5" r="1.08" fill="#1f3170"/>
<circle cx="157.2" cy="420.8" r="1.08" fill="#1f3170"/>
<circle cx="146.2" cy="420.1" r="1.08" fill="#1f3170"/>
<circle cx="153.07" cy="425.2" r="1.08" fill="#1f3170"/>
<circle cx="150.32" cy="424.91" r="1.08" fill="#1f3170"/>
<circle cx="155.82" cy="424.63" r="1.08" fill="#1f3170"/>
<circle cx="147.57" cy="424.34" r="1.08" fill="#1f3170"/>
<circle cx="158.57" cy="424.06" r="1.08" fill="#1f3170"/>
<circle cx="144.82" cy="423.77" r="1.08" fill="#1f3170"/>
<circle cx="161.32" cy="423.49" r="1.08" fill="#1f3170"/>
<circle cx="142.07" cy="423.2" r="1.08" fill="#1f3170"/>
<circle cx="151.7" cy="426.75" r="1.08" fill="#1f3170"/>
<circle cx="154.45" cy="426.5" r="1.08" fill="#1f3170"/>
<circle cx="148.95" cy="426.25" r="1.08" fill="#1f3170"/>
<circle cx="153.07" cy="430.6" r="1.08" fill="#1f3170"/>
<circle cx="150.32" cy="430.31" r="1.08" fill="#1f3170"/>
<circle cx="155.82" cy="430.02" r="1.08" fill="#1f3170"/>
<circle cx="147.57" cy="429.73" r="1.08" fill="#1f3170"/>
<circle cx="158.57" cy="429.44" r="1.08" fill="#1f3170"/>
<circle cx="144.82" cy="429.15" r="1.08" fill="#1f3170"/>
<circle cx="161.32" cy="428.85" r="1.08" fill="#1f3170"/>
<circle cx="142.07" cy="428.56" r="1.08" fill="#1f3170"/>
<circle cx="164.07" cy="428.27" r="1.08" fill="#1f3170"/>
<circle cx="139.32" cy="427.98" r="1.08" fill="#1f3170"/>
<circle cx="166.82" cy="427.69" r="1.08" fill="#1f3170"/>
<circle cx="136.57" cy="427.4" r="1.08" fill="#1f3170"/>
<circle cx="151.7" cy="434.1" r="1.08" fill="#1f3170"/>
<circle cx="154.45" cy="433.78" r="1.08" fill="#1f3170"/>
<circle cx="148.95" cy="433.46" r="1.08" fill="#1f3170"/>
<circle cx="157.2" cy="433.14" r="1.08" fill="#1f3170"/>
<circle cx="146.2" cy="432.82" r="1.08" fill="#1f3170"/>
<circle cx="159.95" cy="432.5" r="1.08" fill="#1f3170"/>
<circle cx="143.45" cy="432.18" r="1.08" fill="#1f3170"/>
<circle cx="162.7" cy="431.86" r="1.08" fill="#1f3170"/>
<circle cx="140.7" cy="431.54" r="1.08" fill="#1f3170"/>
<circle cx="165.45" cy="431.22" r="1.08" fill="#1f3170"/>
<circle cx="137.95" cy="430.9" r="1.08" fill="#1f3170"/>
<circle cx="153.07" cy="435.85" r="1.08" fill="#1f3170"/>
<circle cx="150.32" cy="435.42" r="1.08" fill="#1f3170"/>
<circle cx="155.82" cy="434.98" r="1.08" fill="#1f3170"/>
<circle cx="147.57" cy="434.55" r="1.08" fill="#1f3170"/>
<circle cx="209.3" cy="402.9" r="1.08" fill="#840e32"/>
<circle cx="206.9" cy="406.5" r="1.08" fill="#840e32"/>
<circle cx="205.4" cy="415.3" r="1.08" fill="#840e32"/>
<circle cx="207.9" cy="415" r="1.08" fill="#840e32"/>
<circle cx="207.9" cy="418.8" r="1.08" fill="#840e32"/>
<circle cx="210.8" cy="418" r="1.08" fill="#840e32"/>
<circle cx="202.8" cy="421.7" r="1.08" fill="#840e32"/>
<circle cx="213.4" cy="421.3" r="1.08" fill="#840e32"/>
<circle cx="209.47" cy="423.6" r="1.08" fill="#840e32"/>
<circle cx="206.72" cy="423.4" r="1.08" fill="#840e32"/>
<circle cx="212.22" cy="423.2" r="1.08" fill="#840e32"/>
<circle cx="203.97" cy="423" r="1.08" fill="#840e32"/>
<circle cx="208.1" cy="425.7" r="1.08" fill="#840e32"/>
<circle cx="210.85" cy="425.4" r="1.08" fill="#840e32"/>
<circle cx="205.35" cy="425.1" r="1.08" fill="#840e32"/>
<circle cx="209.47" cy="427.7" r="1.08" fill="#840e32"/>
<circle cx="206.72" cy="427.5" r="1.08" fill="#840e32"/>
<circle cx="212.22" cy="427.3" r="1.08" fill="#840e32"/>
<circle cx="203.97" cy="427.1" r="1.08" fill="#840e32"/>
<circle cx="208.1" cy="431.8" r="1.08" fill="#840e32"/>
<circle cx="210.85" cy="431.53" r="1.08" fill="#840e32"/>
<circle cx="205.35" cy="431.27" r="1.08" fill="#840e32"/>
<circle cx="213.6" cy="431" r="1.08" fill="#840e32"/>
<circle cx="202.6" cy="430.73" r="1.08" fill="#840e32"/>
<circle cx="216.35" cy="430.47" r="1.08" fill="#840e32"/>
<circle cx="199.85" cy="430.2" r="1.08" fill="#840e32"/>
<circle cx="209.47" cy="435.3" r="1.08" fill="#840e32"/>
<circle cx="206.72" cy="434.97" r="1.08" fill="#840e32"/>
<circle cx="212.22" cy="434.63" r="1.08" fill="#840e32"/>
<circle cx="203.97" cy="434.3" r="1.08" fill="#840e32"/>
<circle cx="337.3" cy="327.8" r="1.08" fill="#1f3170"/>
<circle cx="337.3" cy="340.3" r="1.08" fill="#1f3170"/>
<circle cx="337.3" cy="343.8" r="1.08" fill="#1f3170"/>
<circle cx="337.3" cy="378.6" r="1.08" fill="#1f3170"/>
<circle cx="337.3" cy="385.2" r="1.08" fill="#1f3170"/>
<circle cx="337.3" cy="389" r="1.08" fill="#1f3170"/>
<circle cx="336" cy="391.7" r="1.08" fill="#1f3170"/>
<circle cx="339.4" cy="392" r="1.08" fill="#1f3170"/>
<circle cx="337.1" cy="397.9" r="1.08" fill="#1f3170"/>
<circle cx="333.7" cy="403.6" r="1.08" fill="#1f3170"/>
<circle cx="337.1" cy="403.3" r="1.08" fill="#1f3170"/>
<circle cx="340.5" cy="403.6" r="1.08" fill="#1f3170"/>
<circle cx="335.4" cy="406.7" r="1.08" fill="#1f3170"/>
<circle cx="338.8" cy="406.4" r="1.08" fill="#1f3170"/>
<circle cx="337.4" cy="409.8" r="1.08" fill="#1f3170"/>
<circle cx="338.68" cy="415.3" r="1.08" fill="#1f3170"/>
<circle cx="335.93" cy="415.1" r="1.08" fill="#1f3170"/>
<circle cx="341.43" cy="414.9" r="1.08" fill="#1f3170"/>
<circle cx="333.18" cy="414.7" r="1.08" fill="#1f3170"/>
<circle cx="338.68" cy="417.9" r="1.08" fill="#1f3170"/>
<circle cx="335.93" cy="417.3" r="1.08" fill="#1f3170"/>
<circle cx="337.3" cy="421.6" r="1.08" fill="#1f3170"/>
<circle cx="340.05" cy="421.43" r="1.08" fill="#1f3170"/>
<circle cx="334.55" cy="421.27" r="1.08" fill="#1f3170"/>
<circle cx="342.8" cy="421.1" r="1.08" fill="#1f3170"/>
<circle cx="331.8" cy="420.93" r="1.08" fill="#1f3170"/>
<circle cx="345.55" cy="420.77" r="1.08" fill="#1f3170"/>
<circle cx="329.05" cy="420.6" r="1.08" fill="#1f3170"/>
<circle cx="338.68" cy="424.9" r="1.08" fill="#1f3170"/>
<circle cx="335.93" cy="424.76" r="1.08" fill="#1f3170"/>
<circle cx="341.43" cy="424.62" r="1.08" fill="#1f3170"/>
<circle cx="333.18" cy="424.48" r="1.08" fill="#1f3170"/>
<circle cx="344.18" cy="424.35" r="1.08" fill="#1f3170"/>
<circle cx="330.43" cy="424.21" r="1.08" fill="#1f3170"/>
<circle cx="346.93" cy="424.07" r="1.08" fill="#1f3170"/>
<circle cx="327.68" cy="423.93" r="1.08" fill="#1f3170"/>
<circle cx="349.68" cy="423.79" r="1.08" fill="#1f3170"/>
<circle cx="324.93" cy="423.65" r="1.08" fill="#1f3170"/>
<circle cx="352.43" cy="423.52" r="1.08" fill="#1f3170"/>
<circle cx="322.18" cy="423.38" r="1.08" fill="#1f3170"/>
<circle cx="355.18" cy="423.24" r="1.08" fill="#1f3170"/>
<circle cx="319.43" cy="423.1" r="1.08" fill="#1f3170"/>
<circle cx="338.68" cy="427.2" r="1.08" fill="#1f3170"/>
<circle cx="335.93" cy="427" r="1.08" fill="#1f3170"/>
<circle cx="341.43" cy="426.8" r="1.08" fill="#1f3170"/>
<circle cx="333.18" cy="426.6" r="1.08" fill="#1f3170"/>
<circle cx="344.18" cy="426.4" r="1.08" fill="#1f3170"/>
<circle cx="330.43" cy="426.2" r="1.08" fill="#1f3170"/>
<circle cx="337.3" cy="429.2" r="1.08" fill="#1f3170"/>
<circle cx="340.05" cy="429.05" r="1.08" fill="#1f3170"/>
<circle cx="334.55" cy="428.9" r="1.08" fill="#1f3170"/>
<circle cx="342.8" cy="428.75" r="1.08" fill="#1f3170"/>
<circle cx="331.8" cy="428.6" r="1.08" fill="#1f3170"/>
<circle cx="345.55" cy="428.45" r="1.08" fill="#1f3170"/>
<circle cx="329.05" cy="428.3" r="1.08" fill="#1f3170"/>
<circle cx="348.3" cy="428.15" r="1.08" fill="#1f3170"/>
<circle cx="326.3" cy="428" r="1.08" fill="#1f3170"/>
<circle cx="337.3" cy="431.55" r="1.08" fill="#1f3170"/>
<circle cx="340.05" cy="431.4" r="1.08" fill="#1f3170"/>
<circle cx="334.55" cy="431.25" r="1.08" fill="#1f3170"/>
<circle cx="342.8" cy="431.1" r="1.08" fill="#1f3170"/>
<circle cx="331.8" cy="430.95" r="1.08" fill="#1f3170"/>
<circle cx="345.55" cy="430.8" r="1.08" fill="#1f3170"/>
<circle cx="329.05" cy="430.65" r="1.08" fill="#1f3170"/>
<circle cx="348.3" cy="430.5" r="1.08" fill="#1f3170"/>
<circle cx="326.3" cy="430.35" r="1.08" fill="#1f3170"/>
<circle cx="351.05" cy="430.2" r="1.08" fill="#1f3170"/>
<circle cx="323.55" cy="430.05" r="1.08" fill="#1f3170"/>
<circle cx="338.68" cy="433.75" r="1.08" fill="#1f3170"/>
<circle cx="335.93" cy="433.58" r="1.08" fill="#1f3170"/>
<circle cx="341.43" cy="433.42" r="1.08" fill="#1f3170"/>
<circle cx="333.18" cy="433.25" r="1.08" fill="#1f3170"/>
<circle cx="344.18" cy="433.08" r="1.08" fill="#1f3170"/>
<circle cx="330.43" cy="432.92" r="1.08" fill="#1f3170"/>
<circle cx="346.93" cy="432.75" r="1.08" fill="#1f3170"/>
<circle cx="327.68" cy="432.58" r="1.08" fill="#1f3170"/>
<circle cx="349.68" cy="432.42" r="1.08" fill="#1f3170"/>
<circle cx="324.93" cy="432.25" r="1.08" fill="#1f3170"/>
<circle cx="337.3" cy="435.5" r="1.08" fill="#1f3170"/>
<circle cx="340.05" cy="435.33" r="1.08" fill="#1f3170"/>
<circle cx="334.55" cy="435.17" r="1.08" fill="#1f3170"/>
<circle cx="342.8" cy="435" r="1.08" fill="#1f3170"/>
<circle cx="331.8" cy="434.83" r="1.08" fill="#1f3170"/>
<circle cx="345.55" cy="434.67" r="1.08" fill="#1f3170"/>
<circle cx="329.05" cy="434.5" r="1.08" fill="#1f3170"/>
<circle cx="395.4" cy="381.3" r="1.08" fill="#840e32"/>
<circle cx="394.2" cy="421.1" r="1.08" fill="#840e32"/>
<circle cx="396.3" cy="423.8" r="1.08" fill="#840e32"/>
<circle cx="401.2" cy="425.7" r="1.08" fill="#840e32"/>
<circle cx="395.4" cy="426.6" r="1.08" fill="#840e32"/>
<circle cx="398.15" cy="426.3" r="1.08" fill="#840e32"/>
<circle cx="392.65" cy="426" r="1.08" fill="#840e32"/>
<circle cx="396.77" cy="428.8" r="1.08" fill="#840e32"/>
<circle cx="394.02" cy="428.6" r="1.08" fill="#840e32"/>
<circle cx="399.52" cy="428.4" r="1.08" fill="#840e32"/>
<circle cx="391.27" cy="428.2" r="1.08" fill="#840e32"/>
<circle cx="395.4" cy="430.3" r="1.08" fill="#840e32"/>
<circle cx="398.15" cy="430.23" r="1.08" fill="#840e32"/>
<circle cx="392.65" cy="430.15" r="1.08" fill="#840e32"/>
<circle cx="400.9" cy="430.07" r="1.08" fill="#840e32"/>
<circle cx="389.9" cy="430" r="1.08" fill="#840e32"/>
<circle cx="403.65" cy="429.93" r="1.08" fill="#840e32"/>
<circle cx="387.15" cy="429.85" r="1.08" fill="#840e32"/>
<circle cx="406.4" cy="429.77" r="1.08" fill="#840e32"/>
<circle cx="384.4" cy="429.7" r="1.08" fill="#840e32"/>
<circle cx="396.77" cy="433.1" r="1.08" fill="#840e32"/>
<circle cx="394.02" cy="432.9" r="1.08" fill="#840e32"/>
<circle cx="399.52" cy="432.7" r="1.08" fill="#840e32"/>
<circle cx="391.27" cy="432.5" r="1.08" fill="#840e32"/>
<circle cx="395.4" cy="434.6" r="1.08" fill="#840e32"/>
<circle cx="398.15" cy="434.3" r="1.08" fill="#840e32"/>
<circle cx="392.65" cy="434" r="1.08" fill="#840e32"/>
<circle cx="396.77" cy="436.2" r="1.08" fill="#840e32"/>
<circle cx="394.02" cy="435.6" r="1.08" fill="#840e32"/>
<line x1="51.3" y1="262.5" x2="89.9" y2="262.5" stroke="#111" stroke-width="1.4"/>
<line x1="60.9" y1="259.5" x2="80.3" y2="259.5" stroke="#111" stroke-width="1.1"/>
<line x1="60.9" y1="264.5" x2="80.3" y2="264.5" stroke="#111" stroke-width="1.1"/>
<line x1="70.5" y1="259.8" x2="70.5" y2="264.2" stroke="#111" stroke-width="1.1"/>
<line x1="107.8" y1="272.5" x2="146.2" y2="272.5" stroke="#111" stroke-width="1.4"/>
<line x1="118.4" y1="270.5" x2="135.6" y2="270.5" stroke="#111" stroke-width="1.1"/>
<line x1="118.4" y1="274.5" x2="135.6" y2="274.5" stroke="#111" stroke-width="1.1"/>
<line x1="127.5" y1="270.6" x2="127.5" y2="274.2" stroke="#111" stroke-width="1.1"/>
<line x1="224.4" y1="257.5" x2="262.8" y2="257.5" stroke="#111" stroke-width="1.4"/>
<line x1="233.7" y1="254.5" x2="253.5" y2="254.5" stroke="#111" stroke-width="1.1"/>
<line x1="233.7" y1="260.5" x2="253.5" y2="260.5" stroke="#111" stroke-width="1.1"/>
<line x1="243.5" y1="254.1" x2="243.5" y2="260.7" stroke="#111" stroke-width="1.1"/>
<line x1="282.6" y1="270.5" x2="321" y2="270.5" stroke="#111" stroke-width="1.4"/>
<line x1="293.3" y1="268.5" x2="310.3" y2="268.5" stroke="#111" stroke-width="1.1"/>
<line x1="293.3" y1="273.5" x2="310.3" y2="273.5" stroke="#111" stroke-width="1.1"/>
<line x1="301.5" y1="268.4" x2="301.5" y2="273.2" stroke="#111" stroke-width="1.1"/>
<line x1="397" y1="255.5" x2="435.8" y2="255.5" stroke="#111" stroke-width="1.4"/>
<line x1="407.1" y1="249.5" x2="425.7" y2="249.5" stroke="#111" stroke-width="1.1"/>
<line x1="407.1" y1="259.5" x2="425.7" y2="259.5" stroke="#111" stroke-width="1.1"/>
<line x1="416.5" y1="249.4" x2="416.5" y2="259.6" stroke="#111" stroke-width="1.1"/>
<line x1="454.9" y1="266.5" x2="493.7" y2="266.5" stroke="#111" stroke-width="1.4"/>
<line x1="464.6" y1="264.5" x2="484" y2="264.5" stroke="#111" stroke-width="1.1"/>
<line x1="464.6" y1="268.5" x2="484" y2="268.5" stroke="#111" stroke-width="1.1"/>
<line x1="474.5" y1="264.3" x2="474.5" y2="268.3" stroke="#111" stroke-width="1.1"/>
<line x1="132.2" y1="415.5" x2="171.2" y2="415.5" stroke="#111" stroke-width="1.4"/>
<line x1="141.75" y1="413.5" x2="161.65" y2="413.5" stroke="#111" stroke-width="1.1"/>
<line x1="141.75" y1="418.5" x2="161.65" y2="418.5" stroke="#111" stroke-width="1.1"/>
<line x1="151.5" y1="413" x2="151.5" y2="418.2" stroke="#111" stroke-width="1.1"/>
<line x1="188.8" y1="425.5" x2="227.4" y2="425.5" stroke="#111" stroke-width="1.4"/>
<line x1="198.2" y1="423.5" x2="218" y2="423.5" stroke="#111" stroke-width="1.1"/>
<line x1="198.2" y1="427.5" x2="218" y2="427.5" stroke="#111" stroke-width="1.1"/>
<line x1="208.5" y1="423.3" x2="208.5" y2="427.4" stroke="#111" stroke-width="1.1"/>
<line x1="317.8" y1="416.5" x2="356.8" y2="416.5" stroke="#111" stroke-width="1.4"/>
<line x1="326.95" y1="413.5" x2="347.65" y2="413.5" stroke="#111" stroke-width="1.1"/>
<line x1="326.95" y1="419.5" x2="347.65" y2="419.5" stroke="#111" stroke-width="1.1"/>
<line x1="337.5" y1="413.1" x2="337.5" y2="419.4" stroke="#111" stroke-width="1.1"/>
<line x1="376.2" y1="428.5" x2="414.6" y2="428.5" stroke="#111" stroke-width="1.4"/>
<line x1="385.6" y1="426.5" x2="405.2" y2="426.5" stroke="#111" stroke-width="1.1"/>
<line x1="385.6" y1="431.5" x2="405.2" y2="431.5" stroke="#111" stroke-width="1.1"/>
<line x1="395.5" y1="426.2" x2="395.5" y2="431.2" stroke="#111" stroke-width="1.1"/>
</g>
<rect x="0" y="0" width="520" height="460" fill="none" stroke="#000" stroke-width="3"/>
</svg>
</body></html>
